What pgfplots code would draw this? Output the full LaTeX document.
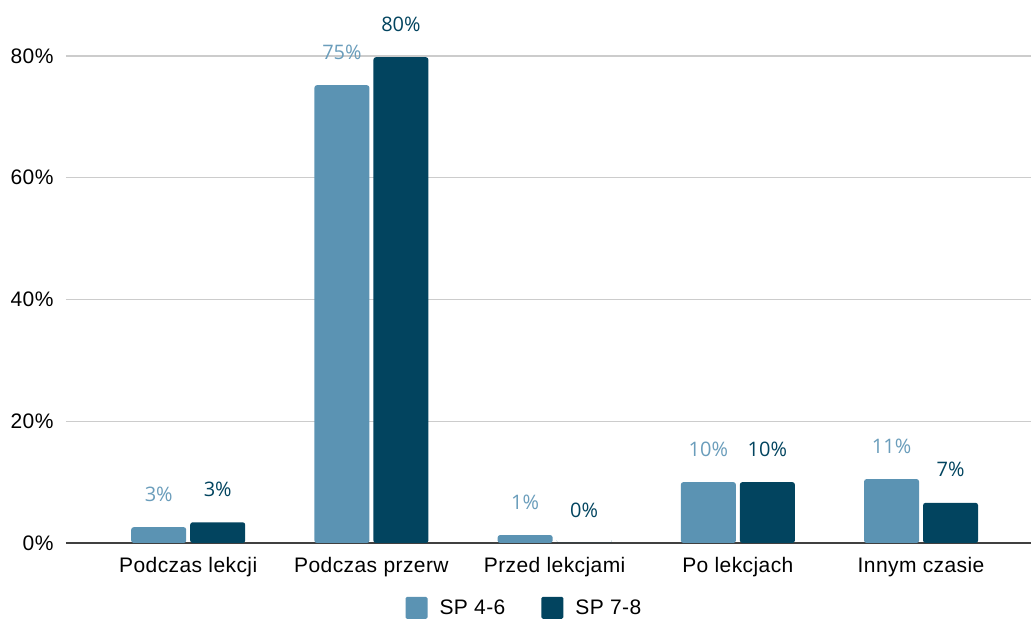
\documentclass[border=0pt]{standalone}
\usepackage{pgfplots}
\pgfplotsset{compat=1.18}
\usepackage{fontspec}
\setmainfont{Liberation Sans}[LetterSpace=2]
\newfontfamily\labfont{Open Sans}
\usetikzlibrary{calc}
\definecolor{cLight}{HTML}{5B93B3}
\definecolor{cDark}{HTML}{02445F}
\definecolor{cLightTxt}{HTML}{6A9DBB}
\definecolor{cGrid}{HTML}{CCCCCC}
\begin{document}
\begin{tikzpicture}
\begin{axis}[
  scale only axis,
  width=965pt, height=487pt,
  xmin=-0.667, xmax=4.6,
  ymin=0, ymax=80,
  ybar=4pt, bar width=55pt,
  axis x line*=bottom,
  axis y line*=left,
  y axis line style={draw=none},
  x axis line style={draw=black!75, line width=1.2pt},
  xtick={0,1,2,3,4},
  xticklabels={Podczas lekcji,Podczas przerw,Przed lekcjami,Po lekcjach,Innym czasie},
  xtick style={draw=none},
  ytick style={draw=none},
  x tick label style={font=\fontsize{21}{24}\selectfont, yshift=-6pt},
  ytick={0,20,40,60,80},
  yticklabels={0\%,20\%,40\%,60\%,80\%},
  y tick label style={font=\fontsize{21}{24}\selectfont, xshift=-9pt},
  ymajorgrids,
  grid style={cGrid, line width=1.2pt},
  clip=false,
  point meta=explicit symbolic,
  nodes near coords,
  every node near coord/.append style={anchor=center, yshift=33pt, font=\labfont\fontsize{20}{22}\selectfont},
  legend style={at={(0.475,-0.133)}, anchor=center, draw=none, legend columns=2,
    font=\fontsize{21}{24}\selectfont, /tikz/every even column/.append style={column sep=34pt}},
  legend image code/.code={\fill[#1, rounded corners=1.5pt] (0pt,-11pt) rectangle (22pt,11pt);},
  legend cell align=left,
]
\coordinate (O) at (rel axis cs:0,0);
\addplot[fill=cLight, draw=none, rounded corners=2.5pt, every node near coord/.append style={text=cLightTxt}]
  coordinates {(0,2.6) [3\%] (1,75.2) [75\%] (2,1.3) [1\%] (3,10.0) [10\%] (4,10.5) [11\%]};
\addplot[fill=cDark, draw=none, rounded corners=2.5pt, every node near coord/.append style={text=cDark}]
  coordinates {(0,3.4) [3\%] (1,79.8) [80\%] (2,0) [0\%] (3,10.0) [10\%] (4,6.6) [7\%]};
\legend{\hspace{10pt}SP 4-6, \hspace{10pt}SP 7-8}
\end{axis}
\pgfresetboundingbox
\path ($(O)+(-66pt,-77pt)$) rectangle ($(O)+(965pt,543pt)$);
\end{tikzpicture}
\end{document}
